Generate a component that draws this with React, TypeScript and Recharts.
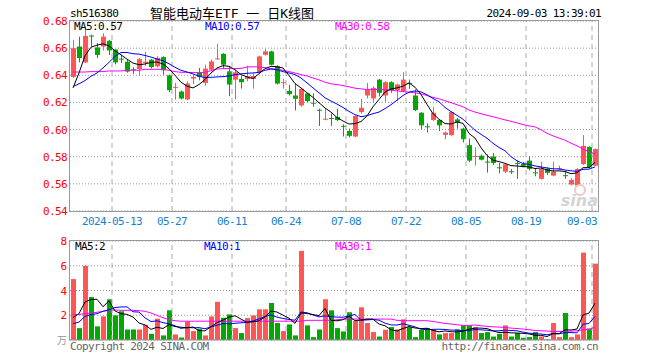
import React from 'react';
import { ComposedChart, Bar, Line, XAxis, YAxis, CartesianGrid, ReferenceLine } from 'recharts';

// trading days shown (2024)
const dates = [
  '04-29', '04-30', '05-06', '05-07', '05-08', '05-09', '05-10', '05-13', '05-14', '05-15',
  '05-16', '05-17', '05-20', '05-21', '05-22', '05-23', '05-24', '05-27', '05-28', '05-29',
  '05-30', '05-31', '06-03', '06-04', '06-05', '06-06', '06-07', '06-11', '06-12', '06-13',
  '06-14', '06-17', '06-18', '06-19', '06-20', '06-21', '06-24', '06-25', '06-26', '06-27',
  '06-28', '07-01', '07-02', '07-03', '07-04', '07-05', '07-08', '07-09', '07-10', '07-11',
  '07-12', '07-15', '07-16', '07-17', '07-18', '07-19', '07-22', '07-23', '07-24', '07-25',
  '07-26', '07-29', '07-30', '07-31', '08-01', '08-02', '08-05', '08-06', '08-07', '08-08',
  '08-09', '08-12', '08-13', '08-14', '08-15', '08-16', '08-19', '08-20', '08-21', '08-22',
  '08-23', '08-26', '08-27', '08-28', '08-29', '08-30', '09-02', '09-03',
];

const open = [
  0.6388, 0.6612, 0.6495, 0.6693, 0.6605, 0.6612, 0.6654, 0.6590, 0.6523, 0.6500,
  0.6444, 0.6446, 0.6490, 0.6515, 0.6466, 0.6534, 0.6400, 0.6310, 0.6280, 0.6222,
  0.6376, 0.6417, 0.6344, 0.6441, 0.6520, 0.6558, 0.6429, 0.6368, 0.6373, 0.6373,
  0.6373, 0.6422, 0.6551, 0.6576, 0.6466, 0.6346, 0.6285, 0.6251, 0.6178, 0.6266,
  0.6198, 0.6146, 0.6078, 0.6085, 0.6093, 0.6027, 0.5990, 0.5949, 0.6129, 0.6251,
  0.6229, 0.6368, 0.6251, 0.6349, 0.6290, 0.6283, 0.6344, 0.6251, 0.6124, 0.6024,
  0.6071, 0.6071, 0.5961, 0.5959, 0.6075, 0.6007, 0.5885, 0.5802, 0.5807, 0.5764,
  0.5802, 0.5722, 0.5690, 0.5693, 0.5754, 0.5746, 0.5771, 0.5685, 0.5637, 0.5710,
  0.5661, 0.5712, 0.5664, 0.5595, 0.5588, 0.5746, 0.5873, 0.5734,
];
const high = [
  0.6661, 0.6685, 0.6734, 0.6700, 0.6637, 0.6710, 0.6660, 0.6590, 0.6550, 0.6513,
  0.6460, 0.6527, 0.6573, 0.6520, 0.6540, 0.6540, 0.6405, 0.6344, 0.6288, 0.6356,
  0.6400, 0.6454, 0.6478, 0.6515, 0.6632, 0.6563, 0.6471, 0.6441, 0.6393, 0.6470,
  0.6417, 0.6544, 0.6593, 0.6581, 0.6473, 0.6373, 0.6330, 0.6339, 0.6307, 0.6271,
  0.6266, 0.6154, 0.6154, 0.6119, 0.6154, 0.6039, 0.6007, 0.6105, 0.6227, 0.6344,
  0.6319, 0.6373, 0.6356, 0.6356, 0.6339, 0.6422, 0.6368, 0.6295, 0.6129, 0.6046,
  0.6168, 0.6075, 0.5985, 0.6136, 0.6087, 0.6014, 0.5934, 0.5868, 0.5817, 0.5817,
  0.5827, 0.5754, 0.5754, 0.5710, 0.5771, 0.5763, 0.5802, 0.5710, 0.5763, 0.5722,
  0.5763, 0.5734, 0.5695, 0.5642, 0.5715, 0.5959, 0.5876, 0.5861,
];
const low = [
  0.6380, 0.6495, 0.6490, 0.6612, 0.6527, 0.6583, 0.6550, 0.6480, 0.6490, 0.6420,
  0.6410, 0.6397, 0.6470, 0.6450, 0.6458, 0.6405, 0.6275, 0.6220, 0.6222, 0.6217,
  0.6335, 0.6363, 0.6324, 0.6429, 0.6515, 0.6449, 0.6246, 0.6222, 0.6302, 0.6356,
  0.6302, 0.6417, 0.6546, 0.6473, 0.6332, 0.6302, 0.6251, 0.6141, 0.6168, 0.6202,
  0.6168, 0.6027, 0.6068, 0.6027, 0.6063, 0.5949, 0.5942, 0.5942, 0.6117, 0.6229,
  0.6198, 0.6244, 0.6205, 0.6271, 0.6210, 0.6276, 0.6300, 0.6136, 0.6002, 0.5978,
  0.6063, 0.5988, 0.5929, 0.5954, 0.6007, 0.5905, 0.5759, 0.5734, 0.5773, 0.5683,
  0.5739, 0.5678, 0.5680, 0.5673, 0.5637, 0.5722, 0.5698, 0.5656, 0.5632, 0.5666,
  0.5656, 0.5707, 0.5637, 0.5588, 0.5583, 0.5739, 0.5715, 0.5729,
];
const close = [
  0.6600, 0.6527, 0.6690, 0.6688, 0.6550, 0.6685, 0.6583, 0.6495, 0.6520, 0.6427,
  0.6440, 0.6519, 0.6500, 0.6460, 0.6527, 0.6437, 0.6290, 0.6315, 0.6229, 0.6339,
  0.6388, 0.6388, 0.6449, 0.6502, 0.6524, 0.6478, 0.6332, 0.6422, 0.6349, 0.6393,
  0.6395, 0.6539, 0.6576, 0.6478, 0.6339, 0.6349, 0.6261, 0.6227, 0.6300, 0.6210,
  0.6195, 0.6144, 0.6080, 0.6083, 0.6070, 0.6024, 0.5954, 0.6100, 0.6161, 0.6295,
  0.6307, 0.6271, 0.6349, 0.6290, 0.6332, 0.6368, 0.6341, 0.6144, 0.6031, 0.6022,
  0.6124, 0.6031, 0.5978, 0.6129, 0.6051, 0.5929, 0.5771, 0.5805, 0.5778, 0.5761,
  0.5754, 0.5720, 0.5744, 0.5690, 0.5751, 0.5729, 0.5710, 0.5683, 0.5710, 0.5681,
  0.5690, 0.5715, 0.5661, 0.5629, 0.5710, 0.5880, 0.5720, 0.5856,
];

const ma5 = [
  0.6307, 0.6417, 0.6544, 0.6607, 0.6622, 0.6632, 0.6617, 0.6580, 0.6551, 0.6519,
  0.6490, 0.6478, 0.6483, 0.6495, 0.6498, 0.6483, 0.6449, 0.6400, 0.6349, 0.6320,
  0.6307, 0.6332, 0.6368, 0.6417, 0.6454, 0.6471, 0.6466, 0.6441, 0.6405, 0.6388,
  0.6376, 0.6412, 0.6449, 0.6466, 0.6463, 0.6454, 0.6398, 0.6339, 0.6307, 0.6271,
  0.6237, 0.6198, 0.6159, 0.6129, 0.6088, 0.6063, 0.6041, 0.6044, 0.6059, 0.6100,
  0.6168, 0.6222, 0.6276, 0.6300, 0.6307, 0.6320, 0.6344, 0.6312, 0.6259, 0.6185,
  0.6117, 0.6076, 0.6044, 0.6041, 0.6056, 0.6046, 0.5972, 0.5937, 0.5867, 0.5809,
  0.5774, 0.5764, 0.5751, 0.5734, 0.5732, 0.5727, 0.5725, 0.5713, 0.5717, 0.5703,
  0.5695, 0.5696, 0.5691, 0.5675, 0.5681, 0.5719, 0.5720, 0.5759,
];
const ma10 = [
  0.6317, 0.6337, 0.6361, 0.6393, 0.6417, 0.6454, 0.6495, 0.6539, 0.6568, 0.6568,
  0.6559, 0.6556, 0.6546, 0.6534, 0.6520, 0.6507, 0.6485, 0.6459, 0.6437, 0.6424,
  0.6410, 0.6393, 0.6383, 0.6385, 0.6388, 0.6390, 0.6395, 0.6405, 0.6410, 0.6415,
  0.6417, 0.6422, 0.6437, 0.6446, 0.6441, 0.6427, 0.6417, 0.6405, 0.6380, 0.6344,
  0.6307, 0.6271, 0.6234, 0.6210, 0.6188, 0.6163, 0.6134, 0.6110, 0.6095, 0.6102,
  0.6117, 0.6129, 0.6154, 0.6183, 0.6217, 0.6251, 0.6276, 0.6285, 0.6278, 0.6256,
  0.6229, 0.6205, 0.6163, 0.6132, 0.6105, 0.6076, 0.6035, 0.5995, 0.5965, 0.5936,
  0.5899, 0.5868, 0.5844, 0.5800, 0.5770, 0.5750, 0.5744, 0.5732, 0.5725, 0.5717,
  0.5711, 0.5710, 0.5702, 0.5696, 0.5692, 0.5707, 0.5708, 0.5725,
];
const ma30 = [
  0.6424, 0.6424, 0.6424, 0.6427, 0.6427, 0.6427, 0.6432, 0.6432, 0.6432, 0.6437,
  0.6437, 0.6437, 0.6444, 0.6444, 0.6444, 0.6444, 0.6437, 0.6427, 0.6422, 0.6422,
  0.6420, 0.6420, 0.6422, 0.6434, 0.6446, 0.6449, 0.6449, 0.6449, 0.6451, 0.6461,
  0.6463, 0.6461, 0.6456, 0.6449, 0.6444, 0.6437, 0.6427, 0.6417, 0.6405, 0.6395,
  0.6380, 0.6366, 0.6349, 0.6337, 0.6332, 0.6324, 0.6315, 0.6305, 0.6300, 0.6295,
  0.6295, 0.6295, 0.6293, 0.6290, 0.6285, 0.6280, 0.6276, 0.6271, 0.6263, 0.6251,
  0.6237, 0.6227, 0.6212, 0.6198, 0.6183, 0.6168, 0.6144, 0.6129, 0.6117, 0.6105,
  0.6095, 0.6083, 0.6071, 0.6061, 0.6049, 0.6037, 0.6027, 0.6020, 0.5998, 0.5973,
  0.5954, 0.5937, 0.5922, 0.5900, 0.5880, 0.5856, 0.5837, 0.5820,
];

// volume, in 万
const volume = [
  4.92, 0.96, 6.00, 3.48, 1.10, 1.91, 3.29, 1.99, 2.32, 0.85,
  0.85, 0.85, 1.23, 0.50, 1.72, 0.37, 2.40, 0.45, 0.20, 1.50,
  0.72, 0.91, 0.37, 1.91, 3.08, 1.80, 2.07, 0.96, 0.56, 1.77,
  1.99, 2.48, 2.48, 2.99, 1.37, 0.72, 1.26, 0.37, 7.20, 1.18,
  0.23, 0.85, 3.29, 2.40, 0.96, 0.69, 2.24, 1.53, 2.64, 1.37,
  0.64, 0.28, 0.83, 1.04, 0.85, 1.67, 1.04, 0.23, 0.83, 0.96,
  0.83, 0.45, 0.56, 0.56, 0.85, 1.18, 1.18, 1.04, 0.56, 0.64,
  0.28, 0.50, 1.18, 0.28, 0.56, 0.18, 0.23, 0.64, 0.28, 0.05,
  1.37, 0.23, 2.18, 0.23, 0.45, 7.06, 0.93, 6.17,
];
const volMa5 = [
  1.80, 2.13, 3.07, 3.27, 3.29, 2.69, 3.16, 2.35, 2.12, 2.07,
  1.86, 1.37, 1.22, 0.86, 1.03, 0.93, 1.24, 1.09, 1.03, 0.98,
  1.05, 0.76, 0.74, 1.08, 1.40, 1.61, 1.85, 1.96, 1.69, 1.43,
  1.47, 1.55, 1.86, 2.34, 2.26, 2.01, 1.76, 1.34, 2.18, 2.15,
  2.05, 1.97, 2.55, 1.59, 1.55, 1.64, 1.92, 1.56, 1.61, 1.69,
  1.68, 1.29, 1.15, 0.83, 0.73, 0.93, 1.09, 0.97, 0.92, 0.95,
  0.78, 0.66, 0.73, 0.67, 0.65, 0.72, 0.87, 0.96, 0.96, 0.92,
  0.74, 0.60, 0.63, 0.58, 0.56, 0.54, 0.49, 0.38, 0.38, 0.28,
  0.51, 0.51, 0.82, 0.81, 0.89, 2.03, 2.17, 2.97,
];
const volMa10 = [
  1.31, 1.45, 1.91, 2.05, 2.13, 2.32, 2.45, 2.62, 2.67, 2.68,
  2.28, 2.26, 1.79, 1.49, 1.55, 1.40, 1.31, 1.15, 0.94, 1.01,
  0.99, 1.00, 0.91, 1.06, 1.19, 1.33, 1.30, 1.35, 1.39, 1.42,
  1.54, 1.70, 1.91, 2.02, 1.85, 1.74, 1.66, 1.60, 2.26, 2.20,
  2.03, 1.87, 1.95, 1.89, 1.85, 1.84, 1.94, 2.06, 1.60, 1.62,
  1.66, 1.60, 1.36, 1.22, 1.21, 1.31, 1.19, 1.06, 0.88, 0.84,
  0.86, 0.87, 0.85, 0.80, 0.80, 0.75, 0.76, 0.84, 0.82, 0.79,
  0.73, 0.74, 0.80, 0.77, 0.74, 0.64, 0.55, 0.51, 0.48, 0.42,
  0.53, 0.50, 0.60, 0.60, 0.58, 1.27, 1.34, 1.90,
];
const volMa30 = [
  2.05, 2.07, 2.13, 2.18, 2.24, 2.32, 2.40, 2.43, 2.40, 2.40,
  2.40, 2.37, 2.32, 2.18, 1.99, 1.80, 1.64, 1.56, 1.52, 1.52,
  1.52, 1.52, 1.52, 1.52, 1.52, 1.52, 1.52, 1.52, 1.52, 1.52,
  1.52, 1.52, 1.52, 1.52, 1.52, 1.52, 1.52, 1.52, 1.52, 1.59,
  1.59, 1.59, 1.59, 1.59, 1.64, 1.69, 1.69, 1.69, 1.69, 1.69,
  1.69, 1.69, 1.69, 1.69, 1.59, 1.56, 1.56, 1.56, 1.56, 1.56,
  1.50, 1.42, 1.34, 1.29, 1.23, 1.18, 1.18, 1.21, 1.15, 1.10,
  1.07, 1.04, 1.02, 0.96, 0.93, 0.88, 0.83, 0.77, 0.75, 0.72,
  0.69, 0.69, 0.69, 0.72, 0.75, 0.83, 0.85, 1.04,
];

const gridDates = ['05-13', '05-27', '06-11', '06-24', '07-08', '07-22', '08-05', '08-19', '09-03'];
const dateLabels = ['2024-05-13', '05-27', '06-11', '06-24', '07-08', '07-22', '08-05', '08-19', '09-03'];
const priceTicks = [0.54, 0.56, 0.58, 0.6, 0.62, 0.64, 0.66, 0.68];
const volTicks = [0, 2, 4, 6, 8];

const UP = '#ff5555';
const DOWN = '#00a800';
const MONO = "'DejaVu Sans Mono', monospace";
const CJK = "'DejaVu Sans Mono', 'Noto Sans CJK SC', sans-serif";

const rows = dates.map((d, i) => ({
  d,
  o: open[i], h: high[i], l: low[i], c: close[i],
  ma5: ma5[i], ma10: ma10[i], ma30: ma30[i],
  v: volume[i], vma5: volMa5[i], vma10: volMa10[i], vma30: volMa30[i],
}));

const Candle = (p: any) => {
  const { x, y, width, height, payload } = p;
  if (x == null || y == null) return null;
  const top = Math.min(y, y + height);
  const h = Math.abs(height);
  const k = payload.h > payload.l ? h / (payload.h - payload.l) : 0;
  const yo = top + (payload.h - payload.o) * k;
  const yc = top + (payload.h - payload.c) * k;
  const color = payload.c >= payload.o ? UP : DOWN;
  const bx = Math.round(x);
  const bw = Math.round(width);
  const cx = bx + Math.floor(bw / 2);
  return (
    <g>
      <rect x={cx} y={top} width={1} height={Math.max(1, h)} fill={color} />
      <rect x={bx} y={Math.min(yo, yc)} width={bw} height={Math.max(1, Math.abs(yo - yc))} fill={color} />
    </g>
  );
};

const VolBar = (p: any) => {
  const { x, y, width, height, payload } = p;
  if (x == null || y == null) return null;
  return (
    <rect x={Math.round(x)} y={y} width={Math.round(width)} height={Math.max(0, height)}
      fill={payload.c >= payload.o ? UP : DOWN} />
  );
};

const PriceTick = ({ y, payload }: any) => (
  <text x={67} y={y + 4} textAnchor="end" fill="#ff0000" fontSize={11} fontFamily={MONO} letterSpacing={-0.6}>
    {payload.value.toFixed(2)}
  </text>
);

const VolTick = ({ y, payload }: any) =>
  payload.value === 0 ? (
    <text x={67} y={y + 4} textAnchor="end" fill="#999" fontSize={10} fontFamily={CJK}>万</text>
  ) : (
    <text x={67} y={y + 4} textAnchor="end" fill="#ff0000" fontSize={11} fontFamily={MONO}>{payload.value}</text>
  );

const DateTick = ({ x, y, payload }: any) => {
  const idx = gridDates.indexOf(payload.value);
  const last = idx === gridDates.length - 1;
  return (
    <text x={last ? x + 2 : x - 3} y={y + 14} textAnchor={last ? 'end' : 'middle'} fill="#1682cf"
      fontSize={11} fontFamily={MONO} letterSpacing={-0.6}>
      {dateLabels[idx]}
    </text>
  );
};

const maLine = (key: string, color: string) => (
  <Line key={key} dataKey={key} stroke={color} strokeWidth={1} dot={false} activeDot={false} isAnimationActive={false} />
);

const vLines = () =>
  gridDates.map((d) => (
    <ReferenceLine key={d} x={d} position="start" stroke="#aaa" strokeDasharray="5 4" />
  ));

const label = (x: number, y: number, text: string, color: string) => (
  <text x={x} y={y} fill={color} fontSize={11} fontFamily={MONO} letterSpacing={-0.6}>{text}</text>
);

export default function App() {
  return (
    <div style={{ position: 'absolute', left: 0, top: 0, width: 660, height: 360, background: '#fff' }}>
      <div style={{ position: 'absolute', left: 0, top: 0 }}>
        <ComposedChart width={660} height={240} data={rows} margin={{ top: 21, right: 62, bottom: 0, left: 0 }}>
          <CartesianGrid vertical={false} stroke="#999" strokeDasharray="1 2" />
          <XAxis dataKey="d" ticks={gridDates} interval={0} tick={DateTick} axisLine={false} tickLine={false}
            tickSize={0} tickMargin={0} height={29} />
          <YAxis type="number" domain={[0.54, 0.68]} ticks={priceTicks} interval={0} allowDataOverflow
            width={70} axisLine={false} tickLine={false} tick={PriceTick} />
          {vLines()}
          <Bar dataKey={(r: any) => [r.l, r.h]} barSize={5} shape={Candle} isAnimationActive={false} />
          {maLine('ma30', '#ff00ff')}
          {maLine('ma10', '#0000ff')}
          {maLine('ma5', '#000000')}
        </ComposedChart>
      </div>
      <div style={{ position: 'absolute', left: 0, top: 230 }}>
        <ComposedChart width={660} height={120} data={rows} margin={{ top: 11, right: 62, bottom: 10, left: 0 }}>
          <CartesianGrid vertical={false} stroke="#999" strokeDasharray="1 2" />
          <XAxis dataKey="d" hide />
          <YAxis type="number" domain={[0, 8]} ticks={volTicks} interval={0} allowDataOverflow
            width={70} axisLine={false} tickLine={false} tick={VolTick} />
          {vLines()}
          <Bar dataKey="v" barSize={5} shape={VolBar} isAnimationActive={false} />
          {maLine('vma30', '#ff00ff')}
          {maLine('vma10', '#0000ff')}
          {maLine('vma5', '#000000')}
        </ComposedChart>
      </div>
      <svg width={660} height={360} style={{ position: 'absolute', left: 0, top: 0, pointerEvents: 'none' }}>
        <rect x={69.5} y={20.5} width={529} height={191} fill="none" stroke="#999" />
        <rect x={69.5} y={240.5} width={529} height={99.5} fill="none" stroke="#999" />
        {label(70, 17, 'sh516380', '#000')}
        <text x={150} y={18} fill="#000" fontSize={13} fontFamily={CJK}>智能电动车ETF 一 日K线图</text>
        <text x={601} y={17} textAnchor="end" fill="#000" fontSize={11} fontFamily={MONO} letterSpacing={-0.6}>
          2024-09-03 13:39:01
        </text>
        {label(74, 30, 'MA5:0.57', '#000')}
        {label(205, 30, 'MA10:0.57', '#0000ff')}
        {label(335, 30, 'MA30:0.58', '#ff00ff')}
        {label(75, 250, 'MA5:2', '#000')}
        {label(204, 250, 'MA10:1', '#0000ff')}
        {label(335, 250, 'MA30:1', '#ff00ff')}
        <circle cx={580} cy={190} r={5} fill="none" stroke="#ecc8c8" strokeWidth={2} />
        <text x={598} y={206} textAnchor="end" fill="#d4d4d4" fontSize={16} fontStyle="italic" fontWeight="bold"
          fontFamily="'DejaVu Sans', sans-serif">sina</text>
        {label(70, 350, 'Copyright 2024 SINA.COM', '#666')}
        <text x={598} y={350} textAnchor="end" fill="#666" fontSize={11} fontFamily={MONO} letterSpacing={-0.6}>
          http://finance.sina.com.cn
        </text>
      </svg>
    </div>
  );
}
